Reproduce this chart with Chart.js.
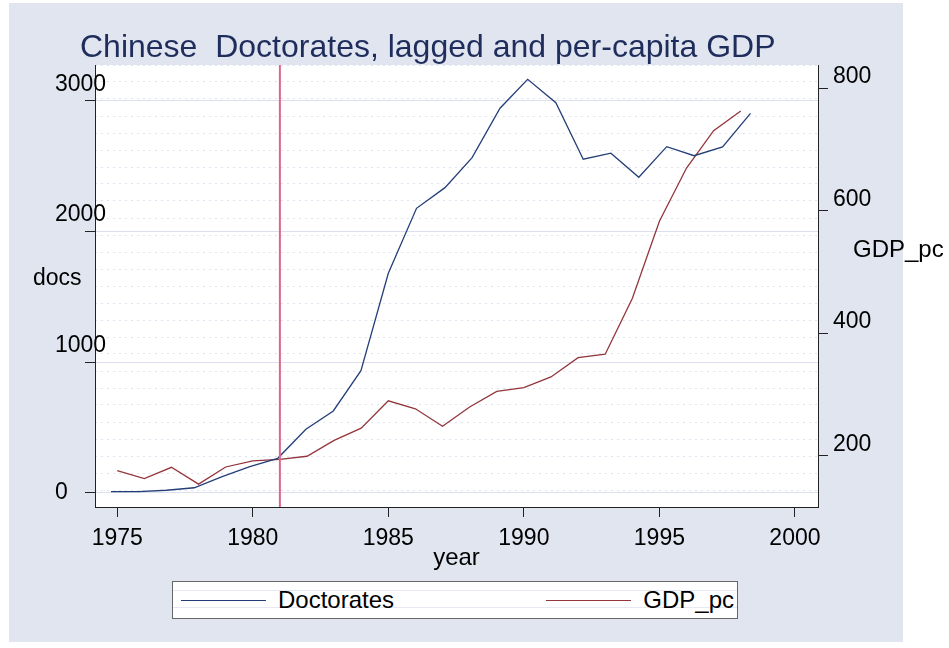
<!DOCTYPE html>
<html>
<head>
<meta charset="utf-8">
<script src="https://cdn.jsdelivr.net/npm/chart.js@4.4.1/dist/chart.umd.min.js"></script>
<style>
  html, body { margin: 0; padding: 0; background: #fff; }
  body { width: 949px; height: 648px; position: relative; overflow: hidden; font-family: "Liberation Sans", Arial, sans-serif; }
  .panel { position: absolute; left: 9px; top: 3px; width: 894px; height: 639px; background: #e1e5f0; }
  #chart { position: absolute; left: 0; top: 0; }
  .legend { position: absolute; left: 172px; top: 581px; width: 566px; height: 38px; box-sizing: border-box;
            background: #fff; border: 1px solid #666; display: flex; align-items: center;
            justify-content: space-between; padding: 0 3px 0 8px;
            background-image: repeating-linear-gradient(to bottom, transparent 0, transparent 8px, #e6e8f2 8px, #e6e8f2 9px, transparent 9px, transparent 17px); }
  .item { display: flex; align-items: center; font-size: 24px; color: #000; }
  .swatch { width: 85px; height: 0; border-top: 1.5px solid; margin-right: 12px; }
</style>
</head>
<body>
<div class="panel"></div>
<canvas id="chart" width="949" height="648"></canvas>
<div class="legend" id="legend"></div>
<script>
// GDP per capita, by year
let years = [1975, 1976, 1977, 1978, 1979, 1980, 1981, 1982, 1983, 1984, 1985, 1986,
             1987, 1988, 1989, 1990, 1991, 1992, 1993, 1994, 1995, 1996, 1997, 1998];
let gdp = [176, 163, 181.5, 154, 182, 192, 194.5, 199.5, 225.5, 245.5, 290, 277,
           248.5, 280, 305.5, 311.5, 329, 360.5, 366, 457, 583, 670, 731, 763];
// doctorates (lagged), x positions as drawn
let docYears = [1974.77, 1975.79, 1976.82, 1977.84, 1978.87, 1979.89, 1980.92, 1981.96,
                1982.97, 1983.99, 1985.0, 1986.04, 1987.09, 1988.09, 1989.12, 1990.14,
                1991.18, 1992.19, 1993.21, 1994.24, 1995.27, 1996.28, 1997.33, 1998.36];
let docs = [10, 11, 21, 40, 125, 201, 265, 487, 627, 935, 1679, 2175,
            2333, 2562, 2940, 3161, 2982, 2550, 2596, 2412, 2646, 2577, 2644, 2901];
let markYear = 1981;
let yearTicks = [1975, 1980, 1985, 1990, 1995, 2000];
let docsTicks = [0, 1000, 2000, 3000];
let gdpTicks = [200, 400, 600, 800];

const titleText = "Chinese  Doctorates, lagged and per-capita GDP";
const font = '"Liberation Sans", Arial, sans-serif';
const docsMin = -107, docsMax = 3270;

Chart.defaults.font.family = font;
Chart.defaults.color = "#000";

// white plot region
const plotBg = {
  id: "plotBg",
  beforeDraw(chart) {
    const a = chart.chartArea;
    chart.ctx.save();
    chart.ctx.fillStyle = "#fff";
    chart.ctx.fillRect(a.left, a.top, a.right - a.left, a.bottom - a.top);
    chart.ctx.restore();
  },
};

const markLine = {
  id: "markLine",
  afterDatasetsDraw(chart) {
    const ctx = chart.ctx;
    const x = chart.scales.x.getPixelForValue(markYear);
    ctx.save();
    ctx.strokeStyle = "#dc6888";
    ctx.lineWidth = 2;
    ctx.beginPath();
    ctx.moveTo(x, chart.chartArea.top);
    ctx.lineTo(x, chart.chartArea.bottom);
    ctx.stroke();
    ctx.restore();
  },
};

const texts = {
  id: "texts",
  afterDraw(chart) {
    const ctx = chart.ctx;
    ctx.save();
    ctx.textAlign = "left";
    ctx.textBaseline = "alphabetic";
    ctx.fillStyle = "#1e2d5c";
    ctx.font = "32px " + font;
    ctx.fillText(titleText, 80, 57);
    ctx.fillStyle = "#000";
    ctx.font = "23px " + font;
    ctx.fillText("docs", 33, 285);
    ctx.font = "24px " + font;
    ctx.fillText("GDP_pc", 853, 257);
    ctx.restore();
  },
};

const ctx = document.getElementById("chart");
const myChart = new Chart(ctx, {
  type: "line",
  data: {
    datasets: [
      {
        label: "Doctorates",
        data: docYears.map((x, i) => ({ x: x, y: docs[i] })),
        borderColor: "#243f78",
        borderWidth: 1.3,
        pointRadius: 0,
        yAxisID: "y",
      },
      {
        label: "GDP_pc",
        data: years.map((x, i) => ({ x: x, y: gdp[i] })),
        borderColor: "#93363c",
        borderWidth: 1.3,
        pointRadius: 0,
        yAxisID: "y2",
      },
    ],
  },
  options: {
    responsive: false,
    animation: false,
    devicePixelRatio: 1,
    layout: { padding: { left: 55, right: 0, top: 65, bottom: 77.5 } },
    plugins: { legend: { display: false }, tooltip: { enabled: false } },
    scales: {
      x: {
        type: "linear",
        min: 1974.18,
        max: 2000.85,
        afterBuildTicks: (s) => { s.ticks = yearTicks.map((v) => ({ value: v })); },
        afterFit: (s) => { s.height = 63.5; },
        ticks: { font: { size: 23 }, padding: 8, callback: (v) => String(v), maxRotation: 0 },
        grid: { drawOnChartArea: false, tickLength: 10, tickColor: "#222" },
        border: { color: "#222" },
        title: { display: true, text: "year", font: { size: 24, lineHeight: 1 }, padding: 0 },
      },
      y: {
        position: "left",
        min: docsMin,
        max: docsMax,
        weight: 1,
        afterBuildTicks: (s) => { s.ticks = docsTicks.map((v) => ({ value: v })); },
        afterFit: (s) => { s.width = 40; },
        ticks: {
          font: { size: 23, lineHeight: 1.4 },
          mirror: true,
          padding: -40,
          crossAlign: "near",
          callback: (v) => (v === 0 ? "0" : [String(v), ""]),
        },
        grid: { color: "#dcdfee", tickLength: 10, tickColor: "#222" },
        border: { color: "#222" },
      },
      yDots: {
        position: "left",
        min: docsMin,
        max: docsMax,
        weight: 0,
        afterFit: (s) => { s.width = 0; },
        ticks: { display: false, stepSize: 3000 / 23, includeBounds: false },
        grid: { drawTicks: false, color: "#dfe2ef" },
        border: { display: false, dash: [2, 4] },
      },
      y2: {
        position: "right",
        min: 116.7,
        max: 838.1,
        afterBuildTicks: (s) => { s.ticks = gdpTicks.map((v) => ({ value: v })); },
        afterFit: (s) => { s.width = 131; },
        ticks: {
          font: { size: 23, lineHeight: 1.0 },
          padding: 5,
          callback: (v) => [String(v), ""],
        },
        grid: { drawOnChartArea: false, tickLength: 10, tickColor: "#222" },
        border: { color: "#222" },
      },
    },
  },
  plugins: [plotBg, markLine, texts],
});

// legend box like the original
let legend = document.querySelector("#legend");
myChart.data.datasets.forEach((ds) => {
  let item = document.createElement("div");
  item.classList.add("item");
  let sw = document.createElement("span");
  sw.classList.add("swatch");
  sw.style.borderTopColor = ds.borderColor;
  let txt = document.createElement("span");
  txt.textContent = ds.label;
  item.appendChild(sw);
  item.appendChild(txt);
  legend.appendChild(item);
});
</script>
</body>
</html>
